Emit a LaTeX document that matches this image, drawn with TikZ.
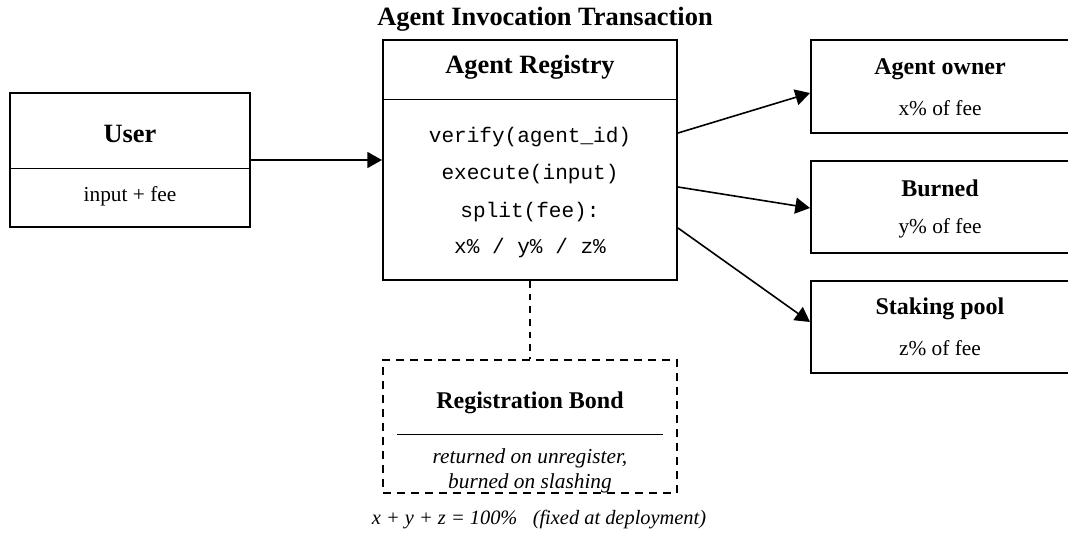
\documentclass[tikz,border=0pt]{standalone}
\usepackage{fontspec}
\setmainfont{Liberation Serif}
\setmonofont{Liberation Mono}
\usetikzlibrary{arrows.meta,calc}
\begin{document}
\begin{tikzpicture}[x=0.75pt,y=-0.75pt,
  box/.style={draw,line width=1.5pt,rectangle,inner sep=0pt},
  dbox/.style={draw,line width=1.5pt,rectangle,inner sep=0pt,dash pattern=on 6pt off 4.5pt},
  divider/.style={line width=0.75pt},
  arr/.style={line width=1.2pt,-{Triangle[length=11pt,width=12pt]}},
  dline/.style={line width=1pt,dash pattern=on 5pt off 4.5pt},
  bigtitle/.style={font=\fontsize{19.8}{22}\selectfont\bfseries,inner sep=0pt},
  boxtitle/.style={font=\fontsize{18}{21}\selectfont\bfseries,inner sep=0pt},
  bondtitle/.style={font=\fontsize{18}{21}\selectfont\bfseries,inner sep=0pt},
  txt/.style={font=\fontsize{16}{19}\selectfont,inner sep=0pt},
  itxt/.style={font=\fontsize{16}{19}\selectfont\itshape,inner sep=0pt},
  ftxt/.style={font=\fontsize{15.3}{18}\selectfont\itshape,inner sep=0pt},
  code/.style={font=\fontsize{15.8}{19}\selectfont\ttfamily,inner sep=0pt}
]
\useasboundingbox (0,0) rectangle (1068,544);

% title
\node[bigtitle] (ttl) at (545,19) {Agent Invocation Transaction};

% user
\node[box,minimum width=240*0.75pt,minimum height=134*0.75pt] (user) at (130,160) {};
\draw[divider] (10,168) coordinate (ud1) -- (250,168) coordinate (ud2);
\node[bigtitle] (usert) at (130,134) {User};
\node[txt] (users) at (130,196) {input + fee};

% registry
\node[box,minimum width=294*0.75pt,minimum height=240*0.75pt] (reg) at (530,160) {};
\draw[divider] (383,99) coordinate (rd1) -- (677,99) coordinate (rd2);
\node[bigtitle] (regt) at (530,67) {Agent Registry};
\node[code] (c1) at (530,137) {verify(agent\_id)};
\node[code] (c2) at (530,174) {execute(input)};
\node[code] (c3) at (530,212) {split(fee):};
\node[code] (c4) at (530,248) {x\% / y\% / z\%};

% right boxes
\node[box,minimum width=258*0.75pt,minimum height=93*0.75pt] (owner) at (940,86.5) {};
\node[boxtitle] (ownert) at (940,69) {Agent owner};
\node[txt] (owners) at (940,108) {x\% of fee};

\node[box,minimum width=258*0.75pt,minimum height=92*0.75pt] (burn) at (940,207) {};
\node[boxtitle] (burnt) at (940,188) {Burned};
\node[txt] (burns) at (940,228) {y\% of fee};

\node[box,minimum width=258*0.75pt,minimum height=92*0.75pt] (stake) at (940,327) {};
\node[boxtitle] (staket) at (940,309) {Staking pool};
\node[txt] (stakes) at (940,348) {z\% of fee};

% bond
\node[dbox,minimum width=294*0.75pt,minimum height=133*0.75pt] (bond) at (530,426.5) {};
\draw[divider] (397,434) coordinate (bd1) -- (663,434) coordinate (bd2);
\node[bondtitle] (bondt) at (530,403) {Registration Bond};
\node[itxt] (bond1) at (530,458) {returned on unregister,};
\node[itxt] (bond2) at (530,483) {burned on slashing};

% footer
\node[ftxt] (foot) at (539,520) {x + y + z = 100\%\ \ \ (fixed at deployment)};

% connectors
\draw[arr] (user.east) -- (reg.west);
\coordinate (r1) at ($(reg.east)+(0,-27)$);
\coordinate (r2) at ($(reg.east)+(0,27)$);
\coordinate (r3) at ($(reg.east)+(0,68)$);
\coordinate (o1) at ($(owner.west)+(0,6.5)$);
\coordinate (b1) at ($(burn.west)+(0,1)$);
\coordinate (s1) at ($(stake.west)+(0,-5)$);
\draw[arr] (r1) -- (o1);
\draw[arr] (r2) -- (b1);
\draw[arr] (r3) -- (s1);
\draw[dline] (reg.south) -- (bond.north);
\end{tikzpicture}
\end{document}
